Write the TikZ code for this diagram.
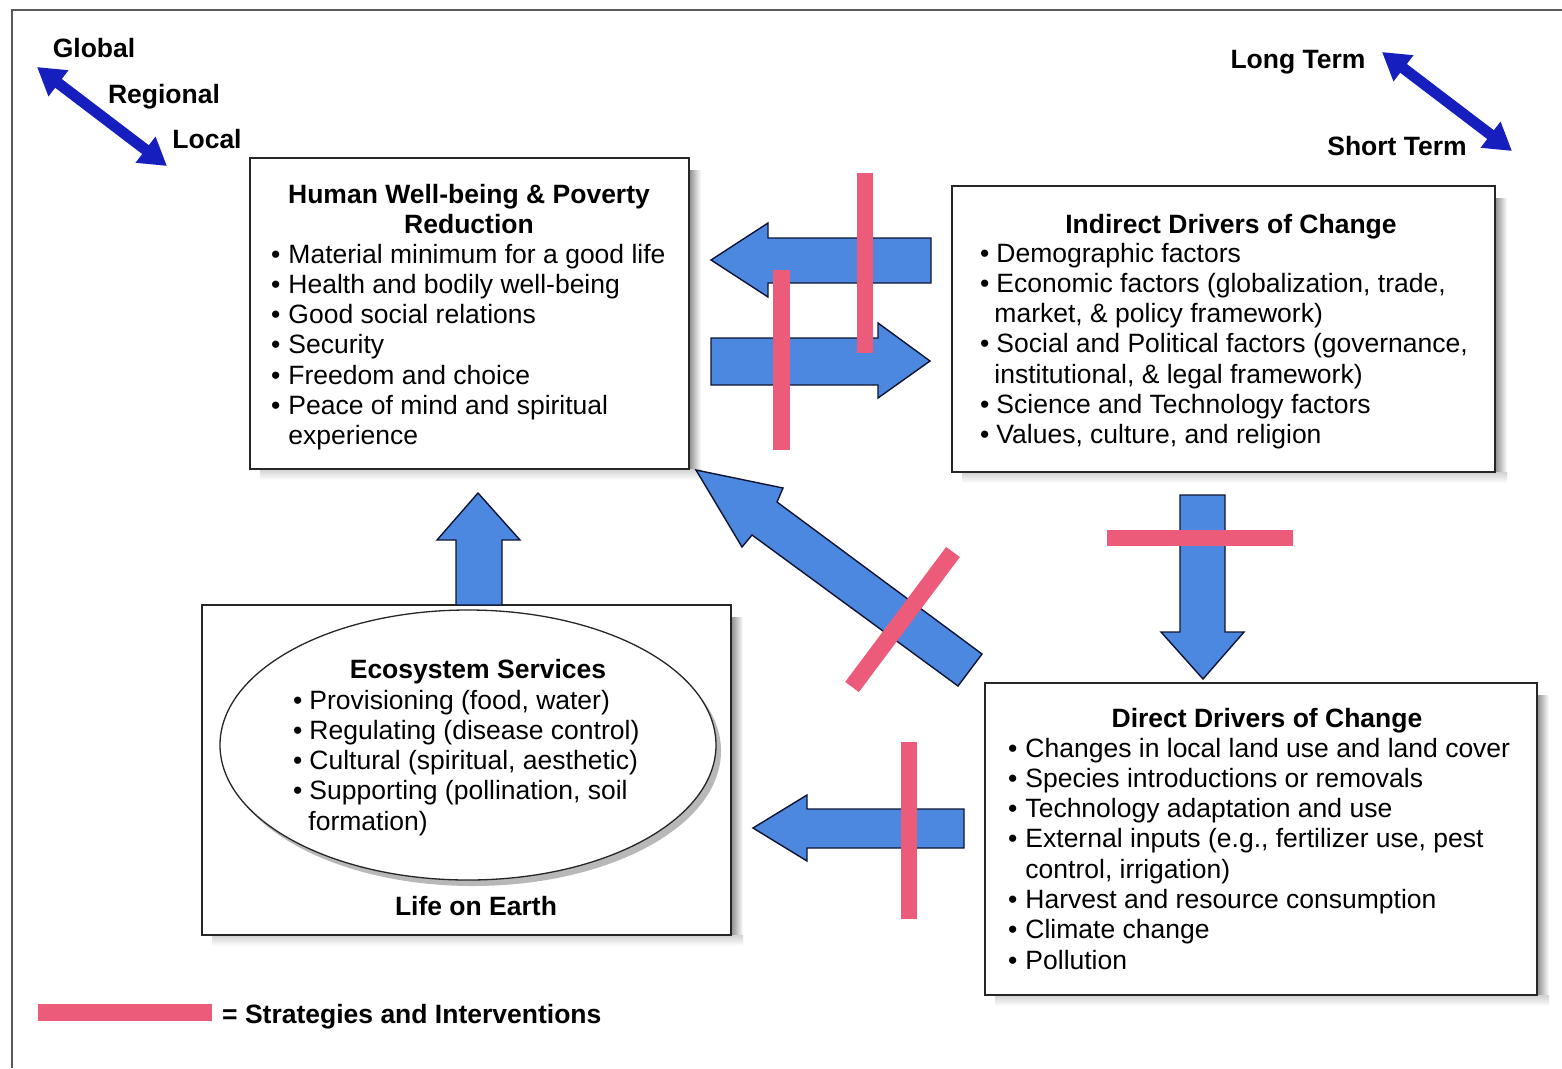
\documentclass[tikz,border=0pt]{standalone}
\usepackage{fontspec}
\setmainfont{Liberation Sans}
\usetikzlibrary{arrows.meta,shapes.geometric}
\definecolor{blk}{RGB}{76,136,224}
\definecolor{blkline}{RGB}{15,20,50}
\definecolor{pinkbar}{RGB}{236,92,122}
\definecolor{dblue}{RGB}{22,30,190}
\newcommand\bodyfont{\fontsize{26.5}{30.3}\selectfont}
\tikzset{
  x=1pt, y=-1pt,
  boxnode/.style={draw=black!85, line width=1.3pt, fill=white, inner sep=0pt},
  ellnode/.style={ellipse, minimum width=496pt, minimum height=270pt, inner sep=0pt},
  txt/.style={inner sep=0pt, font=\bodyfont},
  ttl/.style={inner sep=0pt, font=\bodyfont\bfseries},
  blockarrow/.style={fill=blk, draw=blkline, line width=1.4pt, line join=miter},
  interv/.style={draw=pinkbar, line cap=butt},
  scalearrow/.style={draw=dblue, line width=11pt, {Triangle[width=31pt,length=27pt]}-{Triangle[width=31pt,length=27pt]}},
  rshadow/.style={left color=black!45, right color=white, draw=none},
  bshadow/.style={top color=black!18, bottom color=white, draw=none}
}
\begin{document}
\begin{tikzpicture}
\useasboundingbox (0,0) rectangle (1562,1068);
\fill[white] (0,0) rectangle (1562,1068);
% outer frame
\draw[black!65, line width=1.2pt] (12,1068) -- (12,10) -- (1562,10);

% shadows
\shade[rshadow] (689,170) rectangle (701,478);
\shade[bshadow] (260,469) rectangle (701,480);
\shade[rshadow] (1495,198) rectangle (1507,482);
\shade[bshadow] (962,472) rectangle (1507,483);
\shade[rshadow] (731,617) rectangle (743,944);
\shade[bshadow] (212,935) rectangle (743,946);
\shade[rshadow] (1537,695) rectangle (1549,1004);
\shade[bshadow] (995,995) rectangle (1549,1006);

% boxes
\node[boxnode, minimum width=439pt, minimum height=311pt] (hw) at (469.5,313.5) {};
\node[boxnode, minimum width=543pt, minimum height=286pt] (ind) at (1223.5,329) {};
\node[boxnode, minimum width=529pt, minimum height=330pt] (life) at (466.5,770) {};
\node[boxnode, minimum width=552pt, minimum height=312pt] (dir) at (1261,839) {};
\node[ellnode, fill=black!28] (ecoshadow) at (473,751) {};
\node[ellnode, draw=black!85, line width=1.3pt, fill=white] (eco) at (468,745) {};

% texts: human well-being
\node[ttl, anchor=base] (hwt) at (469,203) {\begin{tabular}[t]{@{}c@{}}Human Well-being \& Poverty\\Reduction\end{tabular}};
\node[txt, anchor=base west] (hwl) at (271,263) {\begin{tabular}[t]{@{}l@{\hspace{8pt}}l@{}}
\textbullet & Material minimum for a good life\\
\textbullet & Health and bodily well-being\\
\textbullet & Good social relations\\
\textbullet & Security\\
\textbullet & Freedom and choice\\
\textbullet & Peace of mind and spiritual\\
 & experience
\end{tabular}};

% indirect drivers
\node[ttl, anchor=base] (indt) at (1231,233) {Indirect Drivers of Change};
\node[txt, anchor=base west] (indl) at (980,262) {\begin{tabular}[t]{@{}l@{\hspace{7pt}}l@{}}
\textbullet & Demographic factors\\
\textbullet & Economic factors (globalization, trade,\\
 & \hspace{-2pt}market, \& policy framework)\\
\textbullet & Social and Political factors (governance,\\
 & \hspace{-2pt}institutional, \& legal framework)\\
\textbullet & Science and Technology factors\\
\textbullet & Values, culture, and religion
\end{tabular}};

% direct drivers
\node[ttl, anchor=base] (dirt) at (1267,727) {Direct Drivers of Change};
\node[txt, anchor=base west] (dirl) at (1008,757) {\begin{tabular}[t]{@{}l@{\hspace{8pt}}l@{}}
\textbullet & Changes in local land use and land cover\\
\textbullet & Species introductions or removals\\
\textbullet & Technology adaptation and use\\
\textbullet & External inputs (e.g., fertilizer use, pest\\
 & control, irrigation)\\
\textbullet & Harvest and resource consumption\\
\textbullet & Climate change\\
\textbullet & Pollution
\end{tabular}};

% ecosystem services
\node[ttl, anchor=base] (ecot) at (478,678) {Ecosystem Services};
\node[txt, anchor=base west] (ecol) at (293,709) {\begin{tabular}[t]{@{}l@{\hspace{7pt}}l@{}}
\textbullet & Provisioning (food, water)\\
\textbullet & Regulating (disease control)\\
\textbullet & Cultural (spiritual, aesthetic)\\
\textbullet & Supporting (pollination, soil\\
 & \hspace{-1pt}formation)
\end{tabular}};
\node[ttl, anchor=base] (lifet) at (476,915) {Life on Earth};

% scale labels
\node[ttl, anchor=base] (glob) at (94,57) {Global};
\node[ttl, anchor=base] (reg) at (164,103) {Regional};
\node[ttl, anchor=base] (loc) at (207,148) {Local};
\node[ttl, anchor=base] (lt) at (1298,68) {Long Term};
\node[ttl, anchor=base] (st) at (1397,155) {Short Term};
\coordinate (g1) at (37,67);
\coordinate (g2) at (167,166);
\coordinate (t1) at (1382,52);
\coordinate (t2) at (1512,151);
\draw[scalearrow] (g1) -- (g2);
\draw[scalearrow] (t1) -- (t2);

% block arrows
\draw[blockarrow] (711,260) -- (768,223) -- (768,238) -- (931,238) -- (931,283) -- (768,283) -- (768,297) -- cycle;
\draw[blockarrow] (711,338) -- (878,338) -- (878,323) -- (930,361) -- (878,398) -- (878,385) -- (711,385) -- cycle;
\draw[blockarrow] (753,828) -- (807,795) -- (807,809) -- (964,809) -- (964,848) -- (807,848) -- (807,861) -- cycle;
\draw[blockarrow] (1180,495) -- (1225,495) -- (1225,632) -- (1244,632) -- (1203,679) -- (1161,632) -- (1180,632) -- cycle;
\draw[blockarrow] (478,493) -- (520,540) -- (502,540) -- (502,605) -- (456,605) -- (456,540) -- (437,540) -- cycle;
\draw[blockarrow] (696,470) -- (783,488) -- (777,502) -- (982,654) -- (958,686) -- (752,535) -- (742,547) -- cycle;

% interventions
\draw[interv, line width=17pt] (781.5,270) -- (781.5,450);
\draw[interv, line width=16pt] (865,173) -- (865,353);
\draw[interv, line width=17pt] (852,687) -- (953,552);
\draw[interv, line width=16pt] (909,742) -- (909,919);
\draw[interv, line width=16pt] (1107,538) -- (1293,538);

% legend
\coordinate (lg1) at (38,1012.5);
\coordinate (lg2) at (212,1012.5);
\draw[interv, line width=17pt] (lg1) -- (lg2);
\node[ttl, anchor=base west] (lgt) at (222,1023) {= Strategies and Interventions};
\end{tikzpicture}
\end{document}
